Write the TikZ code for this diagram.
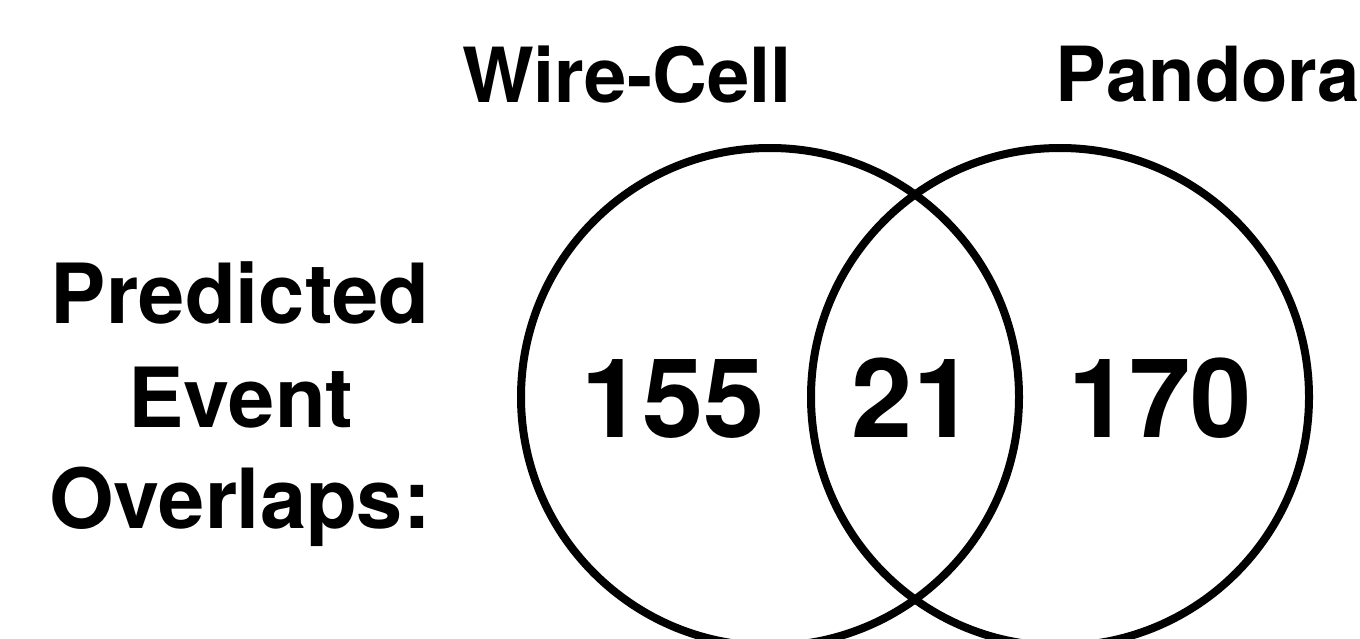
\documentclass[tikz,border=0pt]{standalone}
\usepackage{fontspec}
\setmainfont{TeX Gyre Heros}
\begin{document}
\begin{tikzpicture}[x=1pt,y=-1pt,
  ring/.style={draw=black,line width=8pt,circle,minimum size=498pt,inner sep=0pt},
  title/.style={anchor=base,inner sep=0pt,font=\fontsize{76}{90}\selectfont\bfseries},
  side/.style={anchor=base,inner sep=0pt,font=\fontsize{83}{100}\selectfont\bfseries},
  count/.style={anchor=base,inner sep=0pt,font=\fontsize{110}{130}\selectfont\bfseries}]
\useasboundingbox (0,0) rectangle (1360,639);
\clip (0,0) rectangle (1360,639);
\fill[white] (0,0) rectangle (1360,639);
\node[ring] (wc) at (770,397) {};
\node[ring] (pd) at (1060,397) {};
\node[title] (twc) at (627,103) {Wire-Cell};
\node[title] (tpd) at (1208,102) {Pandora};
\node[side] (l1) at (240,323) {Predicted};
\node[side] (l2) at (241,427) {Event};
\node[side] (l3) at (240,528) {Overlaps:};
\node[count] (n1) at (673,437) {155};
\node[count] (n2) at (913,437) {21};
\node[count] (n3) at (1160,437) {170};
\end{tikzpicture}
\end{document}
